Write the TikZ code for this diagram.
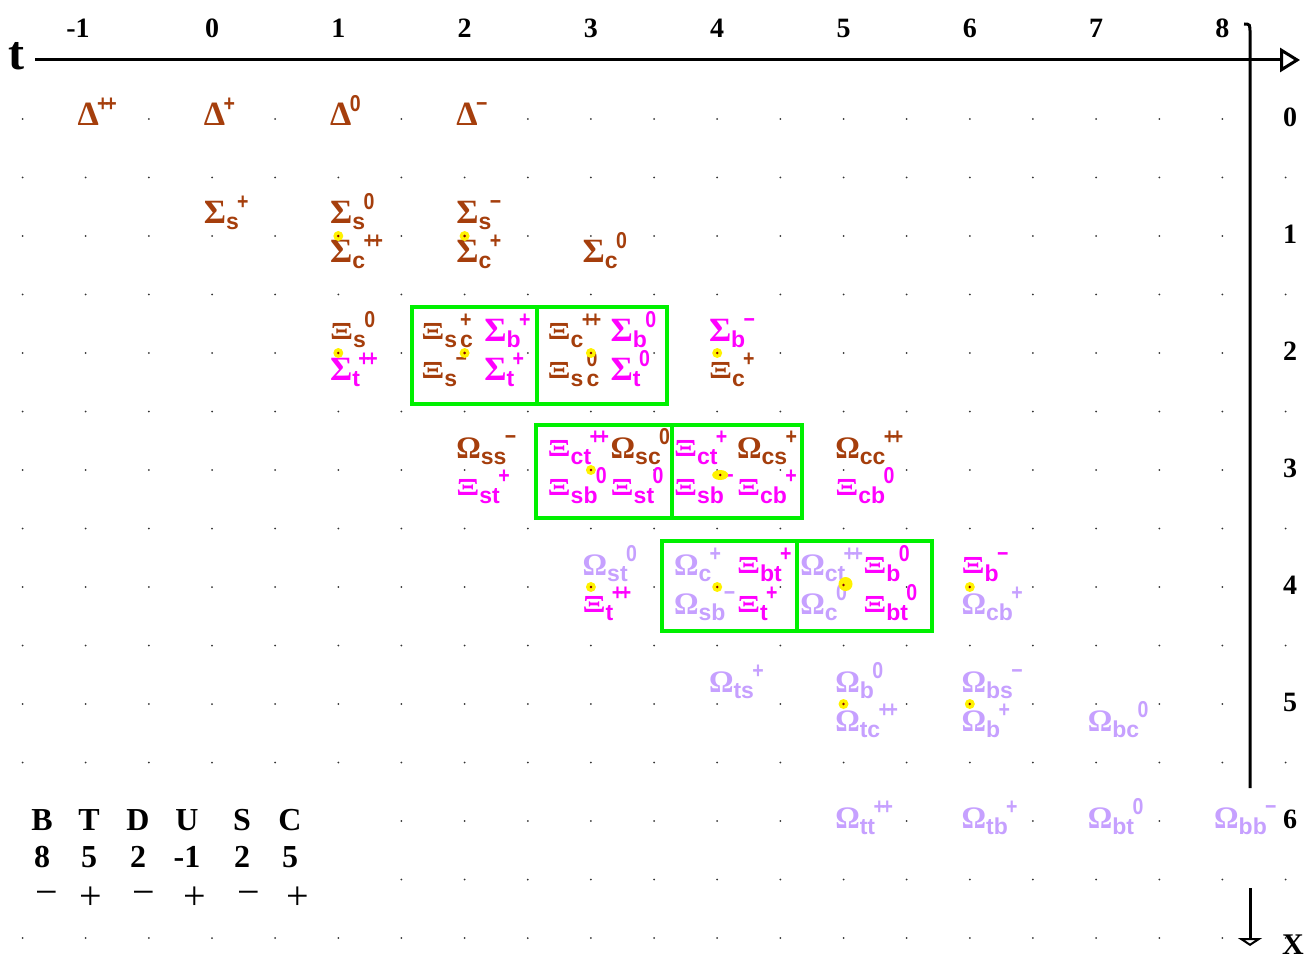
\documentclass[tikz,border=0pt]{standalone}
\usepackage{fontspec}
\setmainfont{Liberation Serif}
\newfontfamily\qsans{Liberation Sans}
\usepackage{graphicx}
\usetikzlibrary{arrows.meta,calc}

\definecolor{qrust}{RGB}{165,62,12}
\definecolor{qmag}{RGB}{255,0,255}
\definecolor{qlil}{RGB}{198,160,255}
\definecolor{qgrn}{RGB}{0,240,0}
\definecolor{qcore}{RGB}{130,0,0}

\newcommand\qsub[1]{\raisebox{-3pt}[0pt][0pt]{\qsans\bfseries\fontsize{11.5}{12}\selectfont #1}}
\newcommand\qsup[1]{\raisebox{7pt}[0pt][0pt]{\scalebox{0.85}[1]{\qsans\bfseries\fontsize{11.5}{12}\selectfont #1}}}
\newcommand\had[3]{#1\qsub{#2}\kern-0.8pt\qsup{#3}}
\newcommand\hadst[4]{#1\qsub{#2}\kern1.5pt\rlap{\qsup{#4}}\qsub{#3}}
\newcommand\Xg{\raisebox{1pt}{\scalebox{1}[0.72]{Ξ}}}
\newcommand\Wg{\scalebox{0.9}[0.92]{Ω}}
\newcommand\pp{+\kern-2pt+}

\begin{document}
\begin{tikzpicture}[
    x=0.5pt,y=-0.5pt,
    lbl/.style={anchor=base west,inner sep=0.2pt,fill=white,font=\bfseries\fontsize{17}{20}\selectfont},
    up/.style={lbl,xshift=-4.5pt,yshift=6pt},
    lo/.style={lbl,xshift=-4.5pt,yshift=-13.5pt},
    mid/.style={lbl,xshift=-4.5pt,yshift=-3.5pt},
    inl/.style={xshift=-17.5pt},
    inr/.style={xshift=14pt},
    rustlbl/.style={text=qrust},
    pinklbl/.style={text=qmag},
    lilaclbl/.style={text=qlil},
    numlbl/.style={fill=white,inner sep=1pt,font=\bfseries\fontsize{14}{16}\selectfont},
    tblq/.style={fill=white,inner sep=1pt,font=\bfseries\fontsize{16}{18}\selectfont},
    tbls/.style={fill=white,inner sep=1pt,font=\fontsize{20}{20}\selectfont},
    axis/.style={line width=1.5pt},
    cellbox/.style={draw=qgrn,line width=2pt},
    griddot/.style={fill=black!80}
  ]
  \useasboundingbox (0,0) rectangle (1309,962);

  % dot grid
  \foreach \c in {-1.5,-1,...,8.5}
    \foreach \r in {0,0.5,...,7}{
      \pgfmathtruncatemacro\skipdot{(\r>5.9)*(\r<6.6)*(\c<1.2)}
      \ifnum\skipdot=0 \fill[griddot] ({212+126.3*\c},{119+117*\r}) circle[radius=1]; \fi
    }
  \foreach \c in {-1,...,8}
    \foreach \r in {0,...,6}
      \coordinate (g\c-\r) at ({212+126.3*\c},{119+117*\r});

  % axes
  \draw[axis,-{Triangle[open,length=10pt,width=12pt]}] (35,60) -- (1300,60);
  \draw[axis] (1244,24) .. controls (1250,24) .. (1250,34) -- (1250,788);
  \draw[axis,-{Triangle[open,length=4pt,width=12pt]}] (1250,888) -- (1250,946);
  \node[font=\bfseries\fontsize{24}{24}\selectfont] (tlab) at (16,56) {t};
  \node[font=\bfseries\fontsize{15}{15}\selectfont] (xlab) at (1293,945) {X};
  \node[numlbl] (colm1) at (78,28) {-1};
  \foreach \c in {0,...,8}
    \node[numlbl] (col\c) at ({212+126.3*\c},28) {\c};
  \foreach \r in {0,...,6}
    \node[numlbl] (row\r) at (1290,{117+117*\r}) {\r};

  % row 0
  \node[mid,rustlbl] (Dpp) at (g-1-0) {\had{Δ}{}{\pp}};
  \node[mid,rustlbl] (Dp) at (g0-0) {\had{Δ}{}{+}};
  \node[mid,rustlbl] (Dz) at (g1-0) {\had{Δ}{}{0}};
  \node[mid,rustlbl] (Dm) at (g2-0) {\had{Δ}{}{−}};

  % row 1
  \node[up,rustlbl] (Ssp) at (g0-1) {\had{Σ}{s}{+}};
  \node[up,rustlbl] (Ssz) at (g1-1) {\had{Σ}{s}{0}};
  \node[lo,rustlbl] (Scpp) at (g1-1) {\had{Σ}{c}{\pp}};
  \node[up,rustlbl] (Ssm) at (g2-1) {\had{Σ}{s}{−}};
  \node[lo,rustlbl] (Scp) at (g2-1) {\had{Σ}{c}{+}};
  \node[lo,rustlbl] (Scz) at (g3-1) {\had{Σ}{c}{0}};

  % row 2
  \node[up,rustlbl] (Xsz) at (g1-2) {\had{\Xg}{s}{0}};
  \node[lo,pinklbl] (Stpp) at (g1-2) {\had{Σ}{t}{\pp}};
  \node[up,inl,rustlbl] (Xscp) at (g2-2) {\hadst{\Xg}{s}{c}{+}};
  \node[up,inr,pinklbl] (Sbp) at (g2-2) {\had{Σ}{b}{+}};
  \node[lo,inl,rustlbl] (Xsm) at (g2-2) {\had{\Xg}{s}{−}};
  \node[lo,inr,pinklbl] (Stp) at (g2-2) {\had{Σ}{t}{+}};
  \node[up,inl,rustlbl] (Xcpp) at (g3-2) {\had{\Xg}{c}{\pp}};
  \node[up,inr,pinklbl] (Sbz) at (g3-2) {\had{Σ}{b}{0}};
  \node[lo,inl,rustlbl] (Xscz) at (g3-2) {\hadst{\Xg}{s}{c}{0}};
  \node[lo,inr,pinklbl] (Stz) at (g3-2) {\had{Σ}{t}{0}};
  \node[up,pinklbl] (Sbm) at (g4-2) {\had{Σ}{b}{−}};
  \node[lo,rustlbl] (Xcp) at (g4-2) {\had{\Xg}{c}{+}};

  % row 3
  \node[up,rustlbl] (Wssm) at (g2-3) {\had{\Wg}{ss}{−}};
  \node[lo,pinklbl] (Xstp) at (g2-3) {\had{\Xg}{st}{+}};
  \node[up,inl,pinklbl] (Xctpp) at (g3-3) {\had{\Xg}{ct}{\pp}};
  \node[up,inr,rustlbl] (Wscz) at (g3-3) {\had{\Wg}{sc}{0}};
  \node[lo,inl,pinklbl] (Xsbz) at (g3-3) {\had{\Xg}{sb}{0}};
  \node[lo,inr,pinklbl] (Xstz) at (g3-3) {\had{\Xg}{st}{0}};
  \node[up,inl,pinklbl] (Xctp) at (g4-3) {\had{\Xg}{ct}{+}};
  \node[up,inr,rustlbl] (Wcsp) at (g4-3) {\had{\Wg}{cs}{+}};
  \node[lo,inl,pinklbl] (Xsbm) at (g4-3) {\had{\Xg}{sb}{−}};
  \node[lo,inr,pinklbl] (Xcbp) at (g4-3) {\had{\Xg}{cb}{+}};
  \node[up,rustlbl] (Wccpp) at (g5-3) {\had{\Wg}{cc}{\pp}};
  \node[lo,pinklbl] (Xcbz) at (g5-3) {\had{\Xg}{cb}{0}};

  % row 4
  \node[up,lilaclbl] (Wstz) at (g3-4) {\had{\Wg}{st}{0}};
  \node[lo,pinklbl] (Xtpp) at (g3-4) {\had{\Xg}{t}{\pp}};
  \node[up,inl,lilaclbl] (Wcp) at (g4-4) {\had{\Wg}{c}{+}};
  \node[up,inr,pinklbl] (Xbtp) at (g4-4) {\had{\Xg}{bt}{+}};
  \node[lo,inl,lilaclbl] (Wsbm) at (g4-4) {\had{\Wg}{sb}{−}};
  \node[lo,inr,pinklbl] (Xtp) at (g4-4) {\had{\Xg}{t}{+}};
  \node[up,inl,lilaclbl] (Wctpp) at (g5-4) {\had{\Wg}{ct}{\pp}};
  \node[up,inr,pinklbl] (Xbz) at (g5-4) {\had{\Xg}{b}{0}};
  \node[lo,inl,lilaclbl] (Wcz) at (g5-4) {\had{\Wg}{c}{0}};
  \node[lo,inr,pinklbl] (Xbtz) at (g5-4) {\had{\Xg}{bt}{0}};
  \node[up,pinklbl] (Xbm) at (g6-4) {\had{\Xg}{b}{−}};
  \node[lo,lilaclbl] (Wcbp) at (g6-4) {\had{\Wg}{cb}{+}};

  % row 5
  \node[up,lilaclbl] (Wtsp) at (g4-5) {\had{\Wg}{ts}{+}};
  \node[up,lilaclbl] (Wbz) at (g5-5) {\had{\Wg}{b}{0}};
  \node[lo,lilaclbl] (Wtcpp) at (g5-5) {\had{\Wg}{tc}{\pp}};
  \node[up,lilaclbl] (Wbsm) at (g6-5) {\had{\Wg}{bs}{−}};
  \node[lo,lilaclbl] (Wbp) at (g6-5) {\had{\Wg}{b}{+}};
  \node[lo,lilaclbl] (Wbcz) at (g7-5) {\had{\Wg}{bc}{0}};

  % row 6
  \node[mid,lilaclbl] (Wttpp) at (g5-6) {\had{\Wg}{tt}{\pp}};
  \node[mid,lilaclbl] (Wtbp) at (g6-6) {\had{\Wg}{tb}{+}};
  \node[mid,lilaclbl] (Wbtz) at (g7-6) {\had{\Wg}{bt}{0}};
  \node[mid,lilaclbl] (Wbbm) at (g8-6) {\had{\Wg}{bb}{−}};

  % green cells
  \draw[cellbox] (412,307) rectangle (667,404) (537,307) -- (537,404);
  \draw[cellbox] (536,425) rectangle (802,518) (672,425) -- (672,518);
  \draw[cellbox] (662,541) rectangle (932,631) (797,541) -- (797,631);

  % markers
  \foreach \p in {1-1,2-1,1-2,2-2,3-2,4-2,3-3,3-4,4-4,6-4,5-5,6-5}{
    \fill[yellow] (g\p) circle[radius=5];
    \fill[qcore] (g\p) circle[radius=1.4];
  }
  \fill[yellow] ($(g4-3)+(3,5)$) ellipse[x radius=8,y radius=5];
  \fill[qcore] ($(g4-3)+(3,5)$) circle[radius=1.4];
  \fill[yellow] ($(g5-4)+(2,-3)$) circle[radius=7];
  \fill[qcore] ($(g5-4)+(0,-2)$) circle[radius=1.4];

  % quark table
  \foreach \xq/\q/\v/\xs/\s [count=\i] in {42/B/8/47/−,89/T/5/91/+,138/D/2/144/−,187/U/-1/195/+,242/S/2/249/−,290/C/5/298/+}{
    \node[tblq] (q\i) at (\xq,820) {\q};
    \node[tblq] (v\i) at (\xq,857) {\v};
    \node[tbls] (s\i) at (\xs,898) {\s};
  }
\end{tikzpicture}
\end{document}
